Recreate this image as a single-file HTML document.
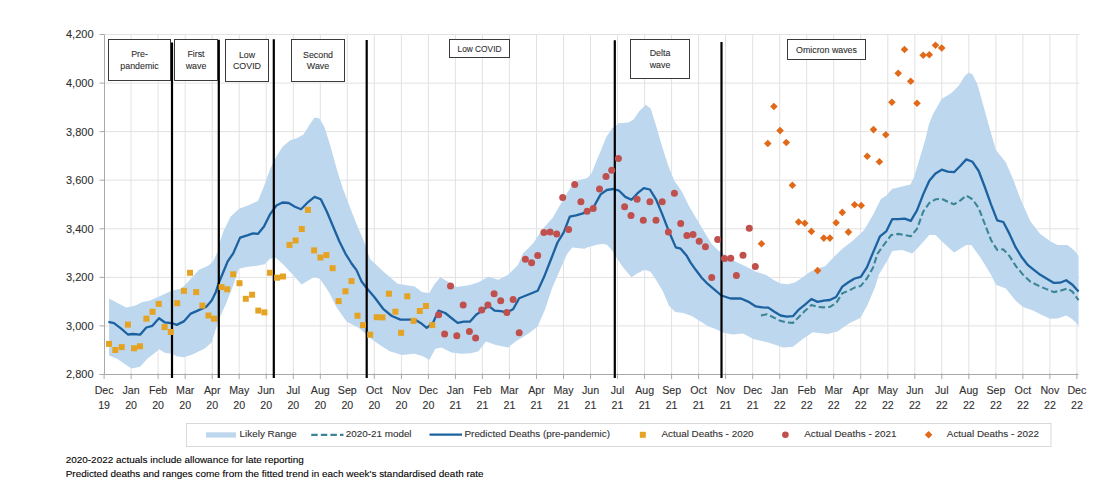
<!DOCTYPE html><html><head><meta charset="utf-8"><style>html,body{margin:0;padding:0;background:#fff;}body{width:1119px;height:487px;overflow:hidden;position:relative;}svg{position:absolute;left:0;top:0;}text{font-family:"Liberation Sans",sans-serif;stroke:currentColor;stroke-width:0.1px;}</style></head><body>
<svg width="1119" height="487" viewBox="0 0 1119 487">
<path d="M104.5,34.5 H1079.5 M104.5,83.1 H1079.5 M104.5,131.6 H1079.5 M104.5,180.2 H1079.5 M104.5,228.8 H1079.5 M104.5,277.4 H1079.5 M104.5,325.9 H1079.5 M131.1,34.5 V374.5 M158.1,34.5 V374.5 M185.2,34.5 V374.5 M212.2,34.5 V374.5 M239.2,34.5 V374.5 M266.2,34.5 V374.5 M293.3,34.5 V374.5 M320.3,34.5 V374.5 M347.3,34.5 V374.5 M374.3,34.5 V374.5 M401.4,34.5 V374.5 M428.4,34.5 V374.5 M455.4,34.5 V374.5 M482.4,34.5 V374.5 M509.4,34.5 V374.5 M536.5,34.5 V374.5 M563.5,34.5 V374.5 M590.5,34.5 V374.5 M617.5,34.5 V374.5 M644.6,34.5 V374.5 M671.6,34.5 V374.5 M698.6,34.5 V374.5 M725.6,34.5 V374.5 M752.7,34.5 V374.5 M779.7,34.5 V374.5 M806.7,34.5 V374.5 M833.7,34.5 V374.5 M860.7,34.5 V374.5 M887.8,34.5 V374.5 M914.8,34.5 V374.5 M941.8,34.5 V374.5 M968.8,34.5 V374.5 M995.9,34.5 V374.5 M1022.9,34.5 V374.5 M1049.9,34.5 V374.5 M1076.9,34.5 V374.5" stroke="#e2e2e2" stroke-width="1" fill="none"/>
<path d="M109.1,298.4 L117.5,303.1 L126.2,307.5 L134.9,305.7 L141.9,302.2 L149.3,300.7 L158,297 L171.5,290.8 L181.4,288.4 L188.8,281 L198.7,270 L208.5,265.5 L212.9,261.4 L217.5,252.2 L220.3,241.1 L223.3,231.4 L230.7,216.6 L239.4,208.4 L248,205.4 L257.9,201 L264,186.2 L270.2,168.9 L276.4,156.6 L282.5,146.7 L289.9,140.6 L297.3,138.1 L303.5,134.4 L309.7,124.5 L314.6,117.6 L319.5,118.4 L324.5,127 L330.6,146.7 L336.8,169.3 L343,189 L349.1,205 L356.5,224 L363.9,241.3 L370,259 L381.7,270 L397.5,283.7 L414.8,286.5 L421.8,292.1 L429.2,293.3 L434.1,284.7 L440.3,277.3 L448.9,282.2 L456.3,287.1 L463.7,285.9 L471.1,284.7 L478.5,282.2 L488.4,276.8 L498.3,279.7 L508.1,274.8 L518,264.9 L522.9,253.6 L532.8,243.7 L542.7,228.9 L552.5,218 L557.2,210 L564.4,197.5 L571.6,186 L578.7,180.2 L587.4,178.1 L591.7,173.1 L597.4,158.7 L601.7,148.6 L606.3,137 L612.5,128.1 L618.7,123.2 L628.5,122.4 L633.5,119.5 L639.6,110.8 L645.8,104.7 L650.7,108.4 L655.7,124.4 L661.8,145.4 L668,165 L674.2,180.5 L681.9,191.5 L689.3,206.7 L696.7,219.1 L704.1,231.4 L711.5,243.7 L718.9,251 L728.6,257.5 L736.2,262 L746.1,266.5 L755.9,271.8 L765.8,274.8 L773.2,279.7 L780.6,283.4 L788,284.2 L795.4,282.2 L802.8,277.3 L810.2,271.8 L817.6,268.6 L825,266.2 L832.4,258.5 L842.3,248.7 L852.1,241.3 L864.2,230 L873.5,213.9 L880.9,199.1 L886.4,195.5 L892,189 L903.1,186.2 L910.5,184.4 L914.1,177 L919.7,158.5 L925.2,140 L929,124 L933,113.9 L941.7,99.1 L951.5,92.9 L958.9,85.5 L965.1,75.6 L968.8,72.4 L972.5,74.4 L977.4,84.3 L983.6,106.5 L989.8,128.7 L995.9,150.1 L1005.8,162.3 L1013.2,179.6 L1020.6,199.3 L1030.5,221.5 L1040.3,233.9 L1050.2,241.3 L1057.6,245 L1067.5,245 L1074.9,251.1 L1078.6,256.1 L1078.6,325.4 L1072.4,319.2 L1066.2,315.5 L1057.6,318.5 L1050.2,318.7 L1040.3,314.3 L1033,310.6 L1023.1,306.9 L1015.7,300.7 L1005.8,288.4 L995.9,284.7 L991,274.8 L981.1,258.5 L971.3,245 L966.3,245 L954,252.4 L941.7,241.3 L935.5,235.1 L929.3,235.1 L917,248.7 L912.1,253.6 L902.2,249.9 L892.3,251.1 L886.2,262.5 L878.8,274.8 L875.1,287.1 L867.7,304.4 L860.3,318 L849.7,322.9 L837.3,331.5 L827.5,334 L812.7,332.3 L802.8,338.9 L792.9,346.8 L783.1,347.6 L768.3,342.6 L753.5,338.9 L743,333.4 L732.7,334.5 L722.4,332.4 L716.3,329.3 L708,326.3 L699.8,321.1 L691.6,316 L683.4,312.9 L675.2,311.9 L669,305.7 L662.9,291.3 L656.7,281.1 L650.5,271.8 L644.4,269.8 L636.2,273.9 L631.5,277.3 L623.1,267.4 L616.6,258 L613,251.6 L607.3,245.1 L602.9,243.7 L595.8,245.1 L587.1,247.4 L584.6,248.7 L572.3,247.4 L567.3,253.6 L560,270 L552.5,287.1 L545.1,309.3 L537.7,326.6 L527.9,334 L515.5,341.4 L508.1,347.6 L495.8,345.1 L485.9,341.4 L478.5,351.3 L471.1,353.2 L461.3,353.7 L451.4,352.5 L441.5,347.6 L435.4,348.8 L429.2,359.9 L423,356.2 L414.4,353.7 L402.1,355 L389.7,351.3 L379.9,345.1 L371.3,338.9 L359,328 L346.7,321.7 L336.7,307.6 L329.3,292.8 L320.1,278.9 L314.5,277.1 L309,279.9 L301.6,284.5 L292.4,274.3 L283.1,264.2 L275.7,257.7 L270.2,258.6 L264.6,264.2 L255.4,266 L246.2,266.9 L238.8,268.8 L233.2,285.4 L225.9,303.9 L218.5,320 L211.7,342.4 L204.7,348.5 L192.5,354.6 L183.8,357.2 L176.8,356.3 L171.6,353.7 L164.6,352.8 L159.3,349.3 L155.9,352 L147.1,358.9 L140.1,366.8 L131.4,368.5 L126.2,365 L117.5,358.9 L109.1,355.5 Z" fill="#bdd7ee" stroke="none"/>
<path d="M104.5,34.5 V374.5 M104.5,374.5 H1078.5 M99.5,34.5 H104.5 M99.5,83.1 H104.5 M99.5,131.6 H104.5 M99.5,180.2 H104.5 M99.5,228.8 H104.5 M99.5,277.4 H104.5 M99.5,325.9 H104.5 M99.5,374.5 H104.5 M104.1,373.5 V379 M131.1,373.5 V379 M158.1,373.5 V379 M185.2,373.5 V379 M212.2,373.5 V379 M239.2,373.5 V379 M266.2,373.5 V379 M293.3,373.5 V379 M320.3,373.5 V379 M347.3,373.5 V379 M374.3,373.5 V379 M401.4,373.5 V379 M428.4,373.5 V379 M455.4,373.5 V379 M482.4,373.5 V379 M509.4,373.5 V379 M536.5,373.5 V379 M563.5,373.5 V379 M590.5,373.5 V379 M617.5,373.5 V379 M644.6,373.5 V379 M671.6,373.5 V379 M698.6,373.5 V379 M725.6,373.5 V379 M752.7,373.5 V379 M779.7,373.5 V379 M806.7,373.5 V379 M833.7,373.5 V379 M860.7,373.5 V379 M887.8,373.5 V379 M914.8,373.5 V379 M941.8,373.5 V379 M968.8,373.5 V379 M995.9,373.5 V379 M1022.9,373.5 V379 M1049.9,373.5 V379 M1076.9,373.5 V379" stroke="#a9a9a9" stroke-width="1" fill="none"/>
<path d="M760.9,315.5 L767,314.3 L773.2,317.2 L779.4,320.4 L785.5,322.2 L792.9,322.9 L799.1,316.7 L805.3,310.6 L811.4,304.9 L817.6,306.9 L823.8,307.4 L829.9,306.9 L836.1,303.2 L842.3,293.3 L848.4,290.8 L854.6,287.6 L860.8,285.9 L866.9,278.5 L873.1,267.4 L877.5,253.6 L883.7,245 L891.1,235.1 L898.5,233.9 L904.7,235.1 L910.8,236.3 L917,228.9 L923.2,211.7 L929.3,203 L935.5,199.3 L941.7,198.8 L947.8,201.8 L954,204.3 L960.2,200.6 L966.3,195.6 L972.5,199.3 L978.7,208 L984.8,224 L991,240 L997.2,249.9 L1003.3,249.4 L1009.5,256.1 L1015.7,265.9 L1023.1,274.8 L1030.5,281.7 L1040.3,286.6 L1047.7,289.6 L1053.9,292.1 L1060.1,290.8 L1067.5,288.4 L1072.4,291.6 L1078.6,300.2" stroke="#3c8596" stroke-width="2.1" fill="none" stroke-dasharray="6.5 3.1" stroke-linejoin="round"/>
<path d="M108.4,321.9 L114,323.2 L120.9,328.4 L127.9,334.5 L133.2,334 L140.1,334.7 L146.3,327.5 L152.4,325.8 L159,318.3 L164.6,322.3 L171.6,323.2 L176.8,324.9 L183.8,321.4 L190.8,313.6 L197.7,310.6 L206.5,306.6 L211.7,300.5 L216,291.7 L218.5,283.6 L223.1,272.5 L227.7,261.4 L233.2,253.4 L240.1,237.6 L248,235.1 L252.9,233.4 L257.9,233.9 L264,226.5 L270.2,214.1 L276.4,205.5 L282.5,202.5 L288.7,203 L294.9,206.7 L301,209.2 L308.4,201.8 L314.6,196.9 L320.8,199.3 L326.9,211.7 L333.1,226.5 L339.3,241.3 L345.4,253.6 L351.6,263.5 L356.5,270.1 L361.6,281.5 L366.6,288 L374.5,297.3 L383.1,308.8 L391.8,316 L400.4,319.6 L409,319.6 L414.4,319.2 L420.6,322.9 L426.7,327.8 L432.9,322.9 L438.6,310.6 L445.2,313 L451.4,318 L457.6,322.9 L463.7,321.7 L469.9,321.7 L476.1,314.8 L482.2,310.6 L488.4,305.6 L494.6,310.6 L500.7,311.1 L506.9,312.3 L513.1,309.3 L519.2,298.2 L525.4,295.8 L531.6,293.3 L537.7,290.8 L543.9,277.3 L551.3,258.5 L557.5,242.5 L563.6,232.6 L569.8,216.6 L576,215.4 L582.1,213.6 L588.3,211.7 L594.5,205.5 L600.6,194.4 L606.8,190 L613,189 L619.1,190.7 L625.3,196.9 L631.5,199.8 L637.6,193.2 L643.8,188.2 L649.9,189.5 L656,199.3 L662.2,214.1 L668.4,230.2 L675.8,247.4 L680.7,248.7 L686.9,256.1 L690.6,262.6 L695.7,269.8 L701.9,278 L708,284.2 L714.2,289.3 L721.4,295.5 L730.6,298.5 L740.9,298.5 L748.1,301.6 L755.9,306.4 L762.1,307.4 L768.3,307.6 L774.4,311.8 L780.6,315.5 L786.8,316.7 L792.9,316.2 L799.1,309.3 L805.3,304.4 L811.4,299 L817.6,301.9 L823.8,300.7 L829.9,300 L836.1,297 L842.3,286.6 L848.4,282.2 L854.6,278.5 L860.8,276.8 L866.9,267.4 L872.6,253.6 L880,236.3 L886.2,231.4 L892.3,219.1 L898.5,219.1 L904.7,218.6 L910.8,220.8 L917,210.4 L923.2,194.4 L929.3,180.8 L935.5,173.4 L941.7,169.7 L947.8,171.7 L954,172.2 L960.2,166 L966.3,159.4 L972.5,161.8 L978.7,171 L984.8,187 L991,204.3 L997.2,220.3 L1003.3,222 L1009.5,233.9 L1015.7,247.4 L1021.8,257.3 L1028,265.2 L1034.2,270.1 L1040.3,274.8 L1047.7,279.2 L1053.9,282.9 L1060.1,282.7 L1066.2,280.2 L1072.4,284.7 L1078.6,291.6" stroke="#1c62a0" stroke-width="2.3" fill="none" stroke-linejoin="round"/>
<path d="M172,42.5 V378 M218.8,39.8 V378 M273.8,39.3 V378 M366.7,40 V378 M614.8,40.2 V378 M721.5,42.1 V378" stroke="#000" stroke-width="2.2" fill="none"/>
<g fill="#e5a324"><rect x="106" y="340.9" width="6" height="6"/><rect x="112.3" y="347" width="6" height="6"/><rect x="118.7" y="344.1" width="6" height="6"/><rect x="124.9" y="321.6" width="6" height="6"/><rect x="131" y="345.3" width="6" height="6"/><rect x="137" y="343.3" width="6" height="6"/><rect x="143.4" y="315.7" width="6" height="6"/><rect x="149.5" y="308.8" width="6" height="6"/><rect x="155.7" y="300.9" width="6" height="6"/><rect x="161.6" y="324.1" width="6" height="6"/><rect x="167.8" y="329" width="6" height="6"/><rect x="174.2" y="300.2" width="6" height="6"/><rect x="180.9" y="287.8" width="6" height="6"/><rect x="187" y="269.8" width="6" height="6"/><rect x="193.2" y="289.1" width="6" height="6"/><rect x="199.4" y="302.6" width="6" height="6"/><rect x="205.5" y="312.5" width="6" height="6"/><rect x="211" y="315.7" width="6" height="6"/><rect x="218.5" y="284.1" width="6" height="6"/><rect x="224.2" y="286.3" width="6" height="6"/><rect x="230.2" y="271.3" width="6" height="6"/><rect x="236.5" y="280.2" width="6" height="6"/><rect x="242.8" y="295.8" width="6" height="6"/><rect x="249.1" y="291.7" width="6" height="6"/><rect x="255.3" y="307.6" width="6" height="6"/><rect x="261.4" y="309.4" width="6" height="6"/><rect x="267" y="269.8" width="6" height="6"/><rect x="274.1" y="274.7" width="6" height="6"/><rect x="280" y="273.5" width="6" height="6"/><rect x="286.5" y="241.9" width="6" height="6"/><rect x="292.6" y="237.5" width="6" height="6"/><rect x="298.8" y="226" width="6" height="6"/><rect x="304.9" y="206.9" width="6" height="6"/><rect x="311.1" y="247.4" width="6" height="6"/><rect x="317.4" y="254.5" width="6" height="6"/><rect x="323.4" y="252.1" width="6" height="6"/><rect x="329.6" y="265.2" width="6" height="6"/><rect x="335.6" y="298.1" width="6" height="6"/><rect x="342.5" y="288.3" width="6" height="6"/><rect x="348.5" y="278.1" width="6" height="6"/><rect x="354.5" y="312.7" width="6" height="6"/><rect x="360" y="322.1" width="6" height="6"/><rect x="367.2" y="331.7" width="6" height="6"/><rect x="373.7" y="314.2" width="6" height="6"/><rect x="379.4" y="314.4" width="6" height="6"/><rect x="385.9" y="290.7" width="6" height="6"/><rect x="392.4" y="308.7" width="6" height="6"/><rect x="398.1" y="329.8" width="6" height="6"/><rect x="404.3" y="293.3" width="6" height="6"/><rect x="410.6" y="317.8" width="6" height="6"/><rect x="416.8" y="308" width="6" height="6"/><rect x="423" y="303" width="6" height="6"/><rect x="429.3" y="322.1" width="6" height="6"/></g>
<g fill="#c0504d"><circle cx="438.6" cy="314.8" r="3.5"/><circle cx="444.6" cy="334.1" r="3.5"/><circle cx="450.5" cy="285.9" r="3.5"/><circle cx="456.8" cy="335.7" r="3.5"/><circle cx="463.2" cy="305.1" r="3.5"/><circle cx="469.4" cy="331.5" r="3.5"/><circle cx="475.6" cy="337.9" r="3.5"/><circle cx="481.7" cy="310.1" r="3.5"/><circle cx="487.9" cy="305.1" r="3.5"/><circle cx="494.1" cy="293.8" r="3.5"/><circle cx="500.7" cy="300.7" r="3.5"/><circle cx="506.9" cy="312.5" r="3.5"/><circle cx="513.1" cy="299.5" r="3.5"/><circle cx="519.2" cy="332.8" r="3.5"/><circle cx="525.4" cy="259.3" r="3.5"/><circle cx="531.6" cy="262.7" r="3.5"/><circle cx="537.7" cy="255.6" r="3.5"/><circle cx="543.9" cy="232.6" r="3.5"/><circle cx="550.1" cy="232.1" r="3.5"/><circle cx="556.7" cy="233.9" r="3.5"/><circle cx="562.7" cy="197.6" r="3.5"/><circle cx="568.6" cy="229.4" r="3.5"/><circle cx="574.7" cy="184.6" r="3.5"/><circle cx="580.9" cy="201.8" r="3.5"/><circle cx="587.1" cy="211.2" r="3.5"/><circle cx="593.2" cy="208.5" r="3.5"/><circle cx="599.5" cy="189.1" r="3.5"/><circle cx="606" cy="176.5" r="3.5"/><circle cx="611.7" cy="170.3" r="3.5"/><circle cx="618.4" cy="158.6" r="3.5"/><circle cx="624.6" cy="206.7" r="3.5"/><circle cx="631" cy="215.4" r="3.5"/><circle cx="637.1" cy="199.3" r="3.5"/><circle cx="643.3" cy="220.3" r="3.5"/><circle cx="649.9" cy="201.8" r="3.5"/><circle cx="656" cy="220.3" r="3.5"/><circle cx="662.2" cy="201.8" r="3.5"/><circle cx="668.4" cy="232.1" r="3.5"/><circle cx="674.4" cy="193.3" r="3.5"/><circle cx="680.7" cy="223.5" r="3.5"/><circle cx="686.9" cy="235.6" r="3.5"/><circle cx="693" cy="234.4" r="3.5"/><circle cx="699.2" cy="241.2" r="3.5"/><circle cx="705.4" cy="246.7" r="3.5"/><circle cx="711.7" cy="277.6" r="3.5"/><circle cx="717.7" cy="239.5" r="3.5"/><circle cx="724.5" cy="258.5" r="3.5"/><circle cx="730.7" cy="258.3" r="3.5"/><circle cx="736.4" cy="275.5" r="3.5"/><circle cx="743" cy="255.2" r="3.5"/><circle cx="749.3" cy="228.2" r="3.5"/><circle cx="755.3" cy="266.6" r="3.5"/></g>
<g fill="#e06a1a"><path d="M761.5,239.9 l3.8,3.8 l-3.8,3.8 l-3.8,-3.8 Z"/><path d="M767.8,139.7 l3.8,3.8 l-3.8,3.8 l-3.8,-3.8 Z"/><path d="M773.9,102.7 l3.8,3.8 l-3.8,3.8 l-3.8,-3.8 Z"/><path d="M780.1,126.8 l3.8,3.8 l-3.8,3.8 l-3.8,-3.8 Z"/><path d="M786.3,138.7 l3.8,3.8 l-3.8,3.8 l-3.8,-3.8 Z"/><path d="M792.4,181.5 l3.8,3.8 l-3.8,3.8 l-3.8,-3.8 Z"/><path d="M798.6,218.2 l3.8,3.8 l-3.8,3.8 l-3.8,-3.8 Z"/><path d="M804.8,219.5 l3.8,3.8 l-3.8,3.8 l-3.8,-3.8 Z"/><path d="M811.4,227.6 l3.8,3.8 l-3.8,3.8 l-3.8,-3.8 Z"/><path d="M817.6,266.8 l3.8,3.8 l-3.8,3.8 l-3.8,-3.8 Z"/><path d="M823.8,234.3 l3.8,3.8 l-3.8,3.8 l-3.8,-3.8 Z"/><path d="M829.9,234.3 l3.8,3.8 l-3.8,3.8 l-3.8,-3.8 Z"/><path d="M836.1,219 l3.8,3.8 l-3.8,3.8 l-3.8,-3.8 Z"/><path d="M842.3,208.6 l3.8,3.8 l-3.8,3.8 l-3.8,-3.8 Z"/><path d="M848.4,228.3 l3.8,3.8 l-3.8,3.8 l-3.8,-3.8 Z"/><path d="M854.6,201 l3.8,3.8 l-3.8,3.8 l-3.8,-3.8 Z"/><path d="M861.2,201.7 l3.8,3.8 l-3.8,3.8 l-3.8,-3.8 Z"/><path d="M867.2,152.4 l3.8,3.8 l-3.8,3.8 l-3.8,-3.8 Z"/><path d="M873.5,125.8 l3.8,3.8 l-3.8,3.8 l-3.8,-3.8 Z"/><path d="M879.4,158 l3.8,3.8 l-3.8,3.8 l-3.8,-3.8 Z"/><path d="M885.8,131 l3.8,3.8 l-3.8,3.8 l-3.8,-3.8 Z"/><path d="M891.9,98.5 l3.8,3.8 l-3.8,3.8 l-3.8,-3.8 Z"/><path d="M898.2,69.4 l3.8,3.8 l-3.8,3.8 l-3.8,-3.8 Z"/><path d="M904.5,45.7 l3.8,3.8 l-3.8,3.8 l-3.8,-3.8 Z"/><path d="M910.7,77.5 l3.8,3.8 l-3.8,3.8 l-3.8,-3.8 Z"/><path d="M917,99.5 l3.8,3.8 l-3.8,3.8 l-3.8,-3.8 Z"/><path d="M923.2,51.4 l3.8,3.8 l-3.8,3.8 l-3.8,-3.8 Z"/><path d="M929.3,50.9 l3.8,3.8 l-3.8,3.8 l-3.8,-3.8 Z"/><path d="M935.5,41.5 l3.8,3.8 l-3.8,3.8 l-3.8,-3.8 Z"/><path d="M941.7,44.2 l3.8,3.8 l-3.8,3.8 l-3.8,-3.8 Z"/></g>
<rect x="108.5" y="39.5" width="62" height="41" fill="#fff" stroke="#3a3a3a" stroke-width="1"/>
<text x="139.5" y="57.3" font-size="8.85" fill="#303030" color="#303030" text-anchor="middle">Pre-</text>
<text x="139.5" y="68.9" font-size="8.85" fill="#303030" color="#303030" text-anchor="middle">pandemic</text>
<rect x="174.5" y="39.5" width="43" height="41" fill="#fff" stroke="#3a3a3a" stroke-width="1"/>
<text x="196" y="57.3" font-size="8.85" fill="#303030" color="#303030" text-anchor="middle">First</text>
<text x="196" y="68.9" font-size="8.85" fill="#303030" color="#303030" text-anchor="middle">wave</text>
<rect x="225.5" y="39.5" width="43" height="42" fill="#fff" stroke="#3a3a3a" stroke-width="1"/>
<text x="247" y="57.8" font-size="8.85" fill="#303030" color="#303030" text-anchor="middle">Low</text>
<text x="247" y="69.4" font-size="8.85" fill="#303030" color="#303030" text-anchor="middle">COVID</text>
<rect x="291.5" y="39.5" width="53" height="42" fill="#fff" stroke="#3a3a3a" stroke-width="1"/>
<text x="318" y="57.8" font-size="8.85" fill="#303030" color="#303030" text-anchor="middle">Second</text>
<text x="318" y="69.4" font-size="8.85" fill="#303030" color="#303030" text-anchor="middle">Wave</text>
<rect x="449.5" y="39.5" width="60" height="18" fill="#fff" stroke="#3a3a3a" stroke-width="1"/>
<text x="479.5" y="51.7" font-size="8.85" fill="#303030" color="#303030" text-anchor="middle" textLength="44" lengthAdjust="spacingAndGlyphs">Low COVID</text>
<rect x="630.5" y="39.5" width="59" height="39" fill="#fff" stroke="#3a3a3a" stroke-width="1"/>
<text x="660" y="56.3" font-size="8.85" fill="#303030" color="#303030" text-anchor="middle">Delta</text>
<text x="660" y="67.9" font-size="8.85" fill="#303030" color="#303030" text-anchor="middle">wave</text>
<rect x="787.5" y="39.5" width="78" height="20" fill="#fff" stroke="#3a3a3a" stroke-width="1"/>
<text x="826.5" y="52.7" font-size="8.85" fill="#303030" color="#303030" text-anchor="middle">Omicron waves</text>
<text x="93.5" y="38.4" font-size="11" fill="#303030" color="#303030" text-anchor="end">4,200</text>
<text x="93.5" y="87" font-size="11" fill="#303030" color="#303030" text-anchor="end">4,000</text>
<text x="93.5" y="135.5" font-size="11" fill="#303030" color="#303030" text-anchor="end">3,800</text>
<text x="93.5" y="184.1" font-size="11" fill="#303030" color="#303030" text-anchor="end">3,600</text>
<text x="93.5" y="232.7" font-size="11" fill="#303030" color="#303030" text-anchor="end">3,400</text>
<text x="93.5" y="281.3" font-size="11" fill="#303030" color="#303030" text-anchor="end">3,200</text>
<text x="93.5" y="329.8" font-size="11" fill="#303030" color="#303030" text-anchor="end">3,000</text>
<text x="93.5" y="378.4" font-size="11" fill="#303030" color="#303030" text-anchor="end">2,800</text>
<text x="104.1" y="393.9" font-size="10.65" fill="#303030" color="#303030" text-anchor="middle">Dec</text>
<text x="104.1" y="408.8" font-size="10.65" fill="#303030" color="#303030" text-anchor="middle">19</text>
<text x="131.1" y="393.9" font-size="10.65" fill="#303030" color="#303030" text-anchor="middle">Jan</text>
<text x="131.1" y="408.8" font-size="10.65" fill="#303030" color="#303030" text-anchor="middle">20</text>
<text x="158.1" y="393.9" font-size="10.65" fill="#303030" color="#303030" text-anchor="middle">Feb</text>
<text x="158.1" y="408.8" font-size="10.65" fill="#303030" color="#303030" text-anchor="middle">20</text>
<text x="185.2" y="393.9" font-size="10.65" fill="#303030" color="#303030" text-anchor="middle">Mar</text>
<text x="185.2" y="408.8" font-size="10.65" fill="#303030" color="#303030" text-anchor="middle">20</text>
<text x="212.2" y="393.9" font-size="10.65" fill="#303030" color="#303030" text-anchor="middle">Apr</text>
<text x="212.2" y="408.8" font-size="10.65" fill="#303030" color="#303030" text-anchor="middle">20</text>
<text x="239.2" y="393.9" font-size="10.65" fill="#303030" color="#303030" text-anchor="middle">May</text>
<text x="239.2" y="408.8" font-size="10.65" fill="#303030" color="#303030" text-anchor="middle">20</text>
<text x="266.2" y="393.9" font-size="10.65" fill="#303030" color="#303030" text-anchor="middle">Jun</text>
<text x="266.2" y="408.8" font-size="10.65" fill="#303030" color="#303030" text-anchor="middle">20</text>
<text x="293.3" y="393.9" font-size="10.65" fill="#303030" color="#303030" text-anchor="middle">Jul</text>
<text x="293.3" y="408.8" font-size="10.65" fill="#303030" color="#303030" text-anchor="middle">20</text>
<text x="320.3" y="393.9" font-size="10.65" fill="#303030" color="#303030" text-anchor="middle">Aug</text>
<text x="320.3" y="408.8" font-size="10.65" fill="#303030" color="#303030" text-anchor="middle">20</text>
<text x="347.3" y="393.9" font-size="10.65" fill="#303030" color="#303030" text-anchor="middle">Sep</text>
<text x="347.3" y="408.8" font-size="10.65" fill="#303030" color="#303030" text-anchor="middle">20</text>
<text x="374.3" y="393.9" font-size="10.65" fill="#303030" color="#303030" text-anchor="middle">Oct</text>
<text x="374.3" y="408.8" font-size="10.65" fill="#303030" color="#303030" text-anchor="middle">20</text>
<text x="401.4" y="393.9" font-size="10.65" fill="#303030" color="#303030" text-anchor="middle">Nov</text>
<text x="401.4" y="408.8" font-size="10.65" fill="#303030" color="#303030" text-anchor="middle">20</text>
<text x="428.4" y="393.9" font-size="10.65" fill="#303030" color="#303030" text-anchor="middle">Dec</text>
<text x="428.4" y="408.8" font-size="10.65" fill="#303030" color="#303030" text-anchor="middle">20</text>
<text x="455.4" y="393.9" font-size="10.65" fill="#303030" color="#303030" text-anchor="middle">Jan</text>
<text x="455.4" y="408.8" font-size="10.65" fill="#303030" color="#303030" text-anchor="middle">21</text>
<text x="482.4" y="393.9" font-size="10.65" fill="#303030" color="#303030" text-anchor="middle">Feb</text>
<text x="482.4" y="408.8" font-size="10.65" fill="#303030" color="#303030" text-anchor="middle">21</text>
<text x="509.4" y="393.9" font-size="10.65" fill="#303030" color="#303030" text-anchor="middle">Mar</text>
<text x="509.4" y="408.8" font-size="10.65" fill="#303030" color="#303030" text-anchor="middle">21</text>
<text x="536.5" y="393.9" font-size="10.65" fill="#303030" color="#303030" text-anchor="middle">Apr</text>
<text x="536.5" y="408.8" font-size="10.65" fill="#303030" color="#303030" text-anchor="middle">21</text>
<text x="563.5" y="393.9" font-size="10.65" fill="#303030" color="#303030" text-anchor="middle">May</text>
<text x="563.5" y="408.8" font-size="10.65" fill="#303030" color="#303030" text-anchor="middle">21</text>
<text x="590.5" y="393.9" font-size="10.65" fill="#303030" color="#303030" text-anchor="middle">Jun</text>
<text x="590.5" y="408.8" font-size="10.65" fill="#303030" color="#303030" text-anchor="middle">21</text>
<text x="617.5" y="393.9" font-size="10.65" fill="#303030" color="#303030" text-anchor="middle">Jul</text>
<text x="617.5" y="408.8" font-size="10.65" fill="#303030" color="#303030" text-anchor="middle">21</text>
<text x="644.6" y="393.9" font-size="10.65" fill="#303030" color="#303030" text-anchor="middle">Aug</text>
<text x="644.6" y="408.8" font-size="10.65" fill="#303030" color="#303030" text-anchor="middle">21</text>
<text x="671.6" y="393.9" font-size="10.65" fill="#303030" color="#303030" text-anchor="middle">Sep</text>
<text x="671.6" y="408.8" font-size="10.65" fill="#303030" color="#303030" text-anchor="middle">21</text>
<text x="698.6" y="393.9" font-size="10.65" fill="#303030" color="#303030" text-anchor="middle">Oct</text>
<text x="698.6" y="408.8" font-size="10.65" fill="#303030" color="#303030" text-anchor="middle">21</text>
<text x="725.6" y="393.9" font-size="10.65" fill="#303030" color="#303030" text-anchor="middle">Nov</text>
<text x="725.6" y="408.8" font-size="10.65" fill="#303030" color="#303030" text-anchor="middle">21</text>
<text x="752.7" y="393.9" font-size="10.65" fill="#303030" color="#303030" text-anchor="middle">Dec</text>
<text x="752.7" y="408.8" font-size="10.65" fill="#303030" color="#303030" text-anchor="middle">21</text>
<text x="779.7" y="393.9" font-size="10.65" fill="#303030" color="#303030" text-anchor="middle">Jan</text>
<text x="779.7" y="408.8" font-size="10.65" fill="#303030" color="#303030" text-anchor="middle">22</text>
<text x="806.7" y="393.9" font-size="10.65" fill="#303030" color="#303030" text-anchor="middle">Feb</text>
<text x="806.7" y="408.8" font-size="10.65" fill="#303030" color="#303030" text-anchor="middle">22</text>
<text x="833.7" y="393.9" font-size="10.65" fill="#303030" color="#303030" text-anchor="middle">Mar</text>
<text x="833.7" y="408.8" font-size="10.65" fill="#303030" color="#303030" text-anchor="middle">22</text>
<text x="860.7" y="393.9" font-size="10.65" fill="#303030" color="#303030" text-anchor="middle">Apr</text>
<text x="860.7" y="408.8" font-size="10.65" fill="#303030" color="#303030" text-anchor="middle">22</text>
<text x="887.8" y="393.9" font-size="10.65" fill="#303030" color="#303030" text-anchor="middle">May</text>
<text x="887.8" y="408.8" font-size="10.65" fill="#303030" color="#303030" text-anchor="middle">22</text>
<text x="914.8" y="393.9" font-size="10.65" fill="#303030" color="#303030" text-anchor="middle">Jun</text>
<text x="914.8" y="408.8" font-size="10.65" fill="#303030" color="#303030" text-anchor="middle">22</text>
<text x="941.8" y="393.9" font-size="10.65" fill="#303030" color="#303030" text-anchor="middle">Jul</text>
<text x="941.8" y="408.8" font-size="10.65" fill="#303030" color="#303030" text-anchor="middle">22</text>
<text x="968.8" y="393.9" font-size="10.65" fill="#303030" color="#303030" text-anchor="middle">Aug</text>
<text x="968.8" y="408.8" font-size="10.65" fill="#303030" color="#303030" text-anchor="middle">22</text>
<text x="995.9" y="393.9" font-size="10.65" fill="#303030" color="#303030" text-anchor="middle">Sep</text>
<text x="995.9" y="408.8" font-size="10.65" fill="#303030" color="#303030" text-anchor="middle">22</text>
<text x="1022.9" y="393.9" font-size="10.65" fill="#303030" color="#303030" text-anchor="middle">Oct</text>
<text x="1022.9" y="408.8" font-size="10.65" fill="#303030" color="#303030" text-anchor="middle">22</text>
<text x="1049.9" y="393.9" font-size="10.65" fill="#303030" color="#303030" text-anchor="middle">Nov</text>
<text x="1049.9" y="408.8" font-size="10.65" fill="#303030" color="#303030" text-anchor="middle">22</text>
<text x="1076.9" y="393.9" font-size="10.65" fill="#303030" color="#303030" text-anchor="middle">Dec</text>
<text x="1076.9" y="408.8" font-size="10.65" fill="#303030" color="#303030" text-anchor="middle">22</text>
<rect x="186.5" y="423.5" width="864.5" height="23" fill="none" stroke="#d9d9d9" stroke-width="1"/>
<rect x="206" y="432.3" width="30" height="5.3" fill="#bdd7ee"/>
<path d="M311.2,434.8 H343.5" stroke="#3c8596" stroke-width="2.2" stroke-dasharray="6.5 3.1"/>
<path d="M429.5,434.6 H462" stroke="#1c62a0" stroke-width="2.2"/>
<rect x="639.8" y="431.8" width="6" height="6" fill="#e5a324"/>
<circle cx="785.4" cy="434.8" r="3.3" fill="#c0504d"/>
<path d="M928.6,431 l3.8,3.8 l-3.8,3.8 l-3.8,-3.8 Z" fill="#e06a1a"/>
<text x="239.6" y="437.4" font-size="9.9" fill="#303030" color="#303030">Likely Range</text>
<text x="345.7" y="437.4" font-size="9.9" fill="#303030" color="#303030">2020-21 model</text>
<text x="464.5" y="437.4" font-size="9.9" fill="#303030" color="#303030">Predicted Deaths (pre-pandemic)</text>
<text x="661.4" y="437.4" font-size="9.9" fill="#303030" color="#303030">Actual Deaths - 2020</text>
<text x="804.2" y="437.4" font-size="9.9" fill="#303030" color="#303030">Actual Deaths - 2021</text>
<text x="946.8" y="437.4" font-size="9.9" fill="#303030" color="#303030">Actual Deaths - 2022</text>
<text x="65.7" y="463.2" font-size="9.95" fill="#000" color="#000">2020-2022 actuals include allowance for late reporting</text>
<text x="65.7" y="476.7" font-size="9.95" fill="#000" color="#000">Predicted deaths and ranges come from the fitted trend in each week's standardised death rate</text>
</svg></body></html>
